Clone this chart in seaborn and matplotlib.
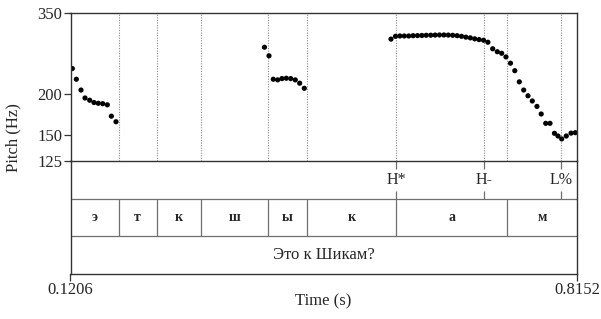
import matplotlib
matplotlib.use("Agg")
import matplotlib.pyplot as plt
import matplotlib.ticker as mticker
import numpy as np
import pandas as pd
import seaborn as sns

# ---------------- data ----------------
t_start, t_end = 0.1206, 0.8152

seg1_time = [0.1231, 0.1286, 0.1350, 0.1405, 0.1469, 0.1528, 0.1587, 0.1648,
             0.1711, 0.1766, 0.1830]
seg1_f0 = [238, 221, 205, 194, 191, 188, 187, 186.5, 185, 171, 164.5]

seg2_time = [0.3866, 0.3928, 0.3987, 0.4047, 0.4106, 0.4165, 0.4226, 0.4289,
             0.4349, 0.4412]
seg2_f0 = [276, 260, 221, 220, 222, 222.5, 222, 220, 215, 207.5]

seg3_time = [0.5601, 0.5663, 0.5723, 0.5784, 0.5844, 0.5904, 0.5965, 0.6025,
             0.6085, 0.6146, 0.6206, 0.6266, 0.6327, 0.6387, 0.6447, 0.6508,
             0.6568, 0.6628, 0.6689, 0.6749, 0.6809, 0.6870, 0.6930, 0.6996,
             0.7059, 0.7119, 0.7178, 0.7240, 0.7299, 0.7361, 0.7421, 0.7480,
             0.7539, 0.7603, 0.7661, 0.7723, 0.7782, 0.7843, 0.7891, 0.7942,
             0.8005, 0.8070, 0.8129]
seg3_f0 = [292, 297.7, 298.4, 298.4, 298.4, 299, 299.2, 299.4, 299.8, 300,
           300.3, 300.5, 300.5, 300.3, 299.8, 299, 297.7, 296, 294.5, 292.5,
           291, 289.7, 285.7, 273, 267.5, 264.6, 258, 247, 234.5, 217, 205,
           197, 190, 183, 173.6, 162.7, 162.7, 151.8, 149, 146, 149, 152,
           152.5]

phones = ["э", "т", "к", "ш", "ы", "к", "а", "м"]
phone_bounds = [0.1206, 0.1867, 0.2388, 0.2999, 0.3910, 0.4453, 0.5670,
                0.7196, 0.8152]
tone_labels = ["H*", "H-", "L%"]
tone_times = [0.5670, 0.6877, 0.7932]
sentence = "Это к Шикам?"
y_ticks = [125, 150, 200, 350]
x_ticks = [0.1206, 0.8152]

# ---------------- style ----------------
sns.set_theme(style="white")
plt.rcParams["font.family"] = ["Liberation Serif", "DejaVu Serif"]
plt.rcParams["font.size"] = 10

W, H = 601, 319
fig = plt.figure(figsize=(W / 100, H / 100), dpi=100)

x0, x1 = 70.5, 577.0
y_top, y_pb, y_bot = 13.0, 161.3, 273.7

ax_t = fig.add_axes([x0 / W, 1 - y_bot / H, (x1 - x0) / W, (y_bot - y_pb) / H])
ax_p = fig.add_axes([x0 / W, 1 - y_pb / H, (x1 - x0) / W, (y_pb - y_top) / H])
ax_t.patch.set_visible(False)
ax_p.patch.set_visible(False)

frame_col = "#333333"
tier_col = "#6f6f6f"
lw_frame = 1.0

df = pd.DataFrame({
    "time": seg1_time + seg2_time + seg3_time,
    "f0": seg1_f0 + seg2_f0 + seg3_f0,
})

# dotted guide lines
guide_times = sorted(set(phone_bounds[1:-1] + tone_times))
ax_p.vlines(guide_times, 125, 350, colors="#8a8a8a", linestyles=(0, (1, 1.3)),
            linewidth=0.8, zorder=1)

sns.scatterplot(data=df, x="time", y="f0", ax=ax_p, color="black", s=14,
                edgecolor="none", linewidth=0, zorder=3, legend=False)

ax_p.set_yscale("log")
ax_p.set_ylim(125, 350)
ax_p.set_xlim(t_start, t_end)
ax_p.yaxis.set_major_locator(mticker.FixedLocator(y_ticks))
ax_p.yaxis.set_minor_locator(mticker.NullLocator())
ax_p.yaxis.set_major_formatter(mticker.FixedFormatter([str(v) for v in y_ticks]))
ax_p.set_xticks([])
ax_p.set_xlabel("")
ax_p.set_ylabel("")
ax_p.tick_params(axis="y", which="major", direction="out", length=5, width=0.9,
                 color=frame_col, labelsize=12, pad=1, left=True)
for s in ax_p.spines.values():
    s.set_color(frame_col)
    s.set_linewidth(lw_frame)
    s.set_zorder(5)

# ---------------- tiers ----------------
ax_t.set_xlim(t_start, t_end)
ax_t.set_ylim(0, 3)
ax_t.set_yticks([])
ax_t.spines["top"].set_visible(False)
for k in ["left", "right", "bottom"]:
    ax_t.spines[k].set_color(frame_col)
    ax_t.spines[k].set_linewidth(lw_frame)

ax_t.hlines([1, 2], t_start, t_end, colors=tier_col, linewidth=0.9)

# tone tier (y 2..3)
for lab, tt in zip(tone_labels, tone_times):
    ax_t.vlines(tt, 2.8, 3.0, colors=tier_col, linewidth=0.9)
    ax_t.vlines(tt, 2.0, 2.2, colors=tier_col, linewidth=0.9)
    ax_t.text(tt, 2.5, lab, ha="center", va="center", fontsize=11.5)

# phone tier (y 1..2)
ax_t.vlines(phone_bounds[1:-1], 1, 2, colors=tier_col, linewidth=0.9)
for i, ph in enumerate(phones):
    mid = (phone_bounds[i] + phone_bounds[i + 1]) / 2
    ax_t.text(mid, 1.5, ph, ha="center", va="center", fontsize=10,
              fontweight="bold")

# sentence tier (y 0..1)
ax_t.text((t_start + t_end) / 2, 0.5, sentence, ha="center", va="center",
          fontsize=12)

ax_t.set_xticks(x_ticks)
ax_t.set_xticklabels([f"{v:.4f}" for v in x_ticks])
ax_t.tick_params(axis="x", direction="out", length=5, width=0.9,
                 color=frame_col, labelsize=12, pad=1, bottom=True)

fig.text(323.5 / W, 1 - 301 / H, "Time (s)", ha="center", va="center",
         fontsize=12)
fig.text(13 / W, 1 - 138 / H, "Pitch (Hz)", ha="center", va="center",
         rotation=90, fontsize=12)

fig.savefig("out.png", dpi=100)
